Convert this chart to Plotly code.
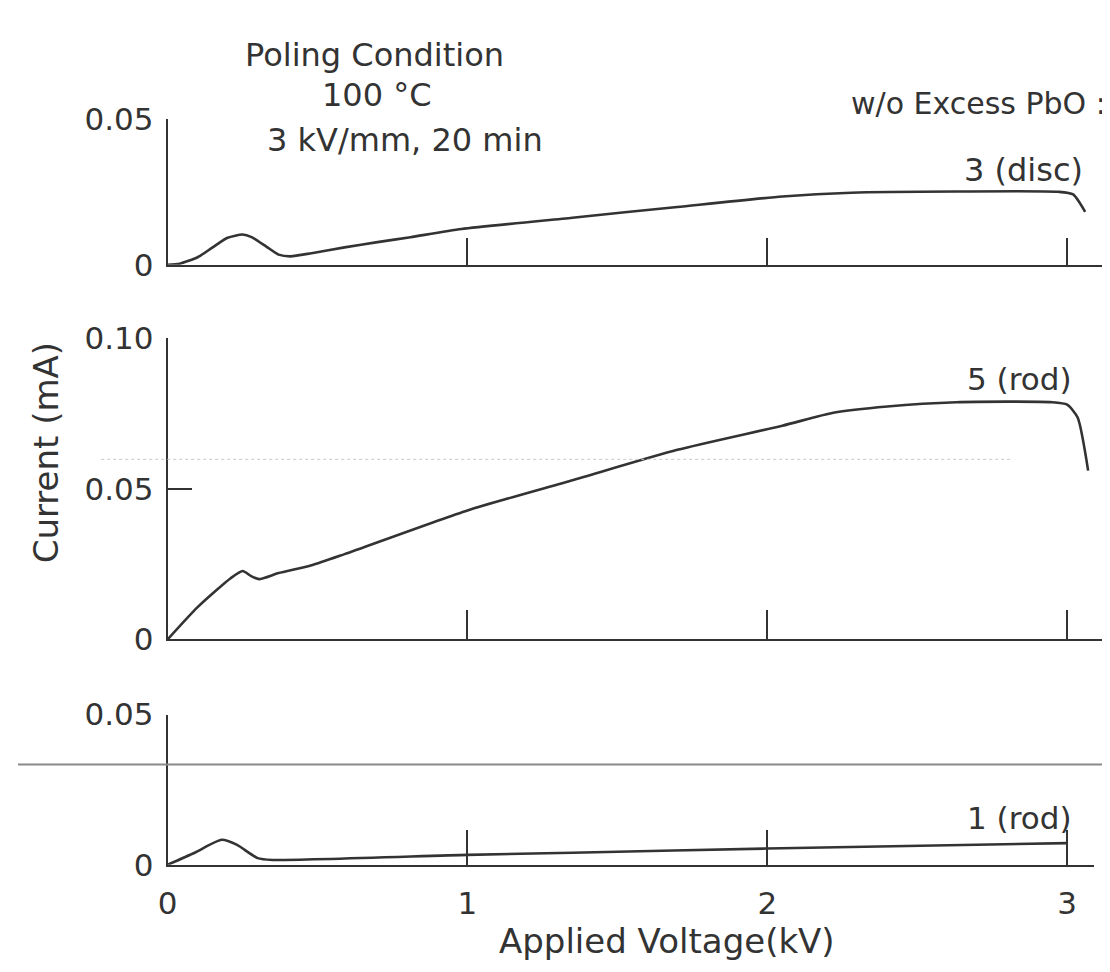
import plotly.graph_objects as go

# ---- data ----
volt_3disc = [0, 0.04, 0.10, 0.15, 0.20, 0.25, 0.28, 0.33, 0.37, 0.41, 0.48, 0.59, 0.70, 0.81,
              0.98, 1.35, 1.70, 2.05, 2.28, 2.63, 2.97, 3.02, 3.06]
cur_3disc = [0, 0.0004, 0.0026, 0.0060, 0.0093, 0.0104, 0.0095, 0.0062, 0.0035, 0.0029, 0.0040,
             0.0060, 0.0078, 0.0095, 0.0123, 0.0162, 0.0199, 0.0235, 0.0248, 0.0252, 0.0251,
             0.0242, 0.0182]

volt_5rod = [0, 0.10, 0.21, 0.25, 0.28, 0.305, 0.37, 0.48, 0.59, 1.00, 1.35, 1.70, 2.05, 2.22,
             2.40, 2.63, 2.95, 3.00, 3.035, 3.07]
cur_5rod = [0, 0.0107, 0.0203, 0.0227, 0.0209, 0.0200, 0.0220, 0.0246, 0.0283, 0.0428, 0.0528,
            0.0629, 0.0709, 0.0752, 0.0773, 0.0787, 0.0787, 0.0779, 0.0736, 0.0560]

volt_1rod = [0, 0.09, 0.18, 0.23, 0.30, 0.35, 1.00, 1.35, 2.00, 3.00]
cur_1rod = [0, 0.0040, 0.0083, 0.0067, 0.0022, 0.0016, 0.0033, 0.0040, 0.0054, 0.0072]

x_tickvals = [0, 1, 2, 3]
x_ticktext = ["0", "1", "2", "3"]
top_yticks = [0, 0.05]
top_yticktext = ["0", "0.05"]
mid_yticks = [0, 0.05, 0.10]
mid_yticktext = ["0", "0.05", "0.10"]
bot_yticks = [0, 0.05]
bot_yticktext = ["0", "0.05"]

labels = ["3 (disc)", "5 (rod)", "1 (rod)"]

# ---- layout geometry (pixels) ----
W, H = 1110, 972
FONT = "DejaVu Sans"
INK = "#333333"


def px(x):
    return x / W


def py(y):
    return 1 - y / H


fig = go.Figure()

line_style = dict(color=INK, width=2.6, shape="spline", smoothing=0.6)
fig.add_trace(go.Scatter(x=volt_3disc, y=cur_3disc, xaxis="x", yaxis="y", mode="lines",
                         line=line_style, cliponaxis=False, showlegend=False, name=labels[0]))
fig.add_trace(go.Scatter(x=volt_5rod, y=cur_5rod, xaxis="x2", yaxis="y2", mode="lines",
                         line=line_style, cliponaxis=False, showlegend=False, name=labels[1]))
fig.add_trace(go.Scatter(x=volt_1rod, y=cur_1rod, xaxis="x3", yaxis="y3", mode="lines",
                         line=line_style, cliponaxis=False, showlegend=False, name=labels[2]))

common_x = dict(showgrid=False, zeroline=False, showline=True, linecolor=INK, linewidth=2,
                ticks="inside", tickcolor=INK, tickwidth=2, fixedrange=True)
common_y = dict(showgrid=False, zeroline=False, showline=True, linecolor=INK, linewidth=2,
                ticks="inside", tickcolor=INK, tickwidth=2, ticklen=24, fixedrange=True,
                tickfont=dict(family=FONT, size=31, color=INK), ticklabelstandoff=6)

x0_px, xend_px = 151, 1095
ppk = (xend_px - x0_px) / 3.12

fig.update_layout(
    width=W, height=H, autosize=False,
    margin=dict(l=0, r=0, t=0, b=0),
    paper_bgcolor="white", plot_bgcolor="rgba(0,0,0,0)",
    xaxis=dict(common_x, domain=[px(x0_px), px(xend_px)], range=[0, 3.12], anchor="y",
               tickvals=x_tickvals[1:], ticklen=27, showticklabels=False),
    yaxis=dict(common_y, domain=[py(248), py(97)], range=[0, 0.05], anchor="x",
               tickvals=top_yticks, ticktext=top_yticktext),
    xaxis2=dict(common_x, domain=[px(x0_px), px(xend_px)], range=[0, 3.12], anchor="y2",
                tickvals=x_tickvals[1:], ticklen=29, showticklabels=False),
    yaxis2=dict(common_y, domain=[py(637), py(324)], range=[0, 0.10], anchor="x2",
                tickvals=mid_yticks, ticktext=mid_yticktext),
    xaxis3=dict(common_x, domain=[px(x0_px), px(1086)], range=[0, (1086 - x0_px) / ppk],
                anchor="y3", tickvals=x_tickvals, ticktext=x_ticktext, ticklen=35,
                tickfont=dict(family=FONT, size=31, color=INK), ticklabelstandoff=10),
    yaxis3=dict(common_y, domain=[py(871), py(715)], range=[0, 0.05], anchor="x3",
                tickvals=bot_yticks, ticktext=bot_yticktext),
)

ann_font = dict(family=FONT, size=31, color=INK)
annotations = [
    dict(text="Poling Condition", x=px(360), y=py(30), xanchor="center", yanchor="middle",
         font=dict(family=FONT, size=32, color=INK)),
    dict(text="100 °C", x=px(362), y=py(72), xanchor="center", yanchor="middle",
         font=dict(family=FONT, size=32, color=INK)),
    dict(text="3 kV/mm, 20 min", x=px(391), y=py(118), xanchor="center", yanchor="middle",
         font=dict(family=FONT, size=32, color=INK)),
    dict(text="w/o Excess PbO :", x=px(1100), y=py(80), xanchor="right", yanchor="middle",
         font=dict(family=FONT, size=30, color=INK)),
    dict(text=labels[0], x=px(1077), y=py(150), xanchor="right", yanchor="middle",
         font=dict(family=FONT, size=32, color=INK)),
    dict(text=labels[1], x=px(1065), y=py(367), xanchor="right", yanchor="middle"),
    dict(text=labels[2], x=px(1065), y=py(822), xanchor="right", yanchor="middle"),
    dict(text="Applied Voltage(kV)", x=px(655), y=py(950), xanchor="center", yanchor="middle",
         font=dict(family=FONT, size=34, color=INK)),
    dict(text="Current (mA)", x=px(28), y=py(443), xanchor="center", yanchor="middle",
         textangle=-90, font=dict(family=FONT, size=34, color=INK)),
]
for a in annotations:
    a.setdefault("font", ann_font)
    a.update(xref="paper", yref="paper", showarrow=False)
fig.update_layout(annotations=annotations)

# scan artefacts visible in the reference
fig.add_shape(type="line", xref="paper", yref="paper", x0=0, x1=1, y0=py(767), y1=py(767),
              line=dict(color="#8a8a8a", width=2))
fig.add_shape(type="line", xref="paper", yref="paper", x0=px(84), x1=px(1002), y0=py(450),
              y1=py(450), line=dict(color="#c8c8c8", width=1, dash="dot"))

fig.write_html("out.html")
